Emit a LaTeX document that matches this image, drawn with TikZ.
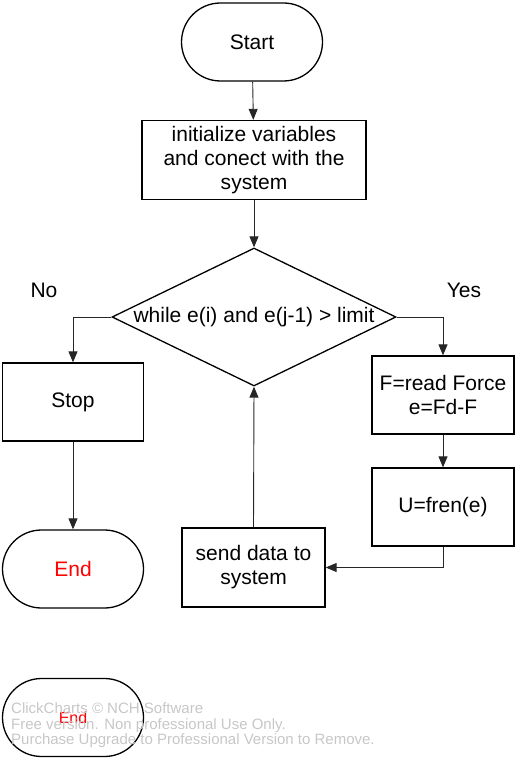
\documentclass[tikz,border=0pt]{standalone}
\usepackage{fontspec}
\setmainfont{Liberation Sans}
\usetikzlibrary{shapes.geometric,arrows.meta}
\begin{document}
\begin{tikzpicture}[x=1pt,y=-1pt,
 flowfont/.style={font=\fontsize{21}{24}\selectfont},
 terminal/.style={draw, line width=1.3pt, rounded corners=39pt, minimum width=141pt, minimum height=78pt, flowfont},
 process/.style={draw, line width=1.3pt, minimum width=142pt, minimum height=78pt, align=center, flowfont},
 decision/.style={draw, diamond, line width=1.3pt, aspect=2.06, inner sep=0pt, minimum width=284pt, minimum height=138pt, flowfont},
 flow/.style={-{Triangle[length=11pt,width=9pt]}, line width=0.9pt, black!85}]
 \useasboundingbox (0,0) rectangle (516,759);
 \node[terminal] (start) at (252,42) {Start};
 \node[process, minimum width=224pt, minimum height=79pt] (init) at (254,160) {initialize variables\\and conect with the\\system};
 \node[decision] (cond) at (254,317) {while e(i) and e(j-1) > limit};
 \node[flowfont] (no) at (44,290) {No};
 \node[flowfont] (yes) at (464,290) {Yes};
 \node[process, minimum width=141pt] (stop) at (73,402) {Stop};
 \node[terminal, text=red] (endA) at (73,569) {End};
 \node[process] (force) at (443,395) {F=read Force\\e=Fd-F};
 \node[process] (fren) at (443,507) {U=fren(e)};
 \node[process, minimum width=143pt, minimum height=79pt] (send) at (253.5,567.5) {send data to\\system};
 \node[terminal, text=red, font=\fontsize{16}{19}\selectfont] (endB) at (73,717.5) {End};
 \draw[flow] (start) -- (init);
 \draw[flow] (init) -- (cond);
 \draw[flow] (cond.west) -| (stop.north);
 \draw[flow] (stop) -- (endA);
 \draw[flow] (cond.east) -| (force.north);
 \draw[flow] (force) -- (fren);
 \draw[flow] (fren.south) |- (send.east);
 \draw[flow] (send.north) -- (cond.south);
 \node[anchor=north west, inner sep=0pt, align=left, text=black!22, font=\fontsize{15}{15.7}\selectfont] (mark) at (11,702.5) {ClickCharts © NCH Software\\Free version. Non professional Use Only.\\Purchase Upgrade to Professional Version to Remove.};
\end{tikzpicture}
\end{document}
